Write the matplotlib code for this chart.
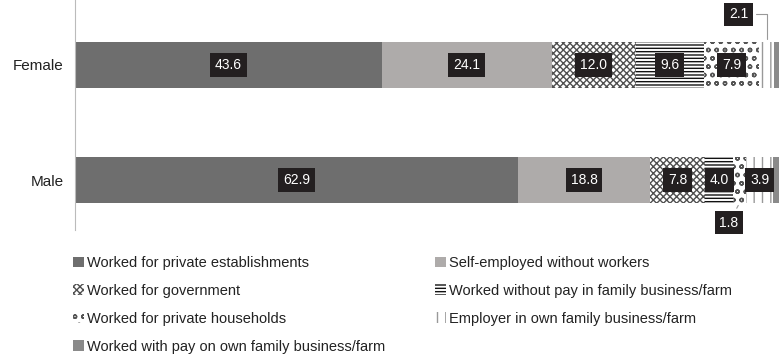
import numpy as np
import matplotlib.pyplot as plt
from matplotlib.patches import Patch

plt.rcParams['font.family'] = ['Liberation Sans', 'DejaVu Sans']
plt.rcParams['hatch.linewidth'] = 1.0

groups = ['Female', 'Male']
categories = [
    'Worked for private establishments',
    'Self-employed without workers',
    'Worked for government',
    'Worked without pay in family business/farm',
    'Worked for private households',
    'Employer in own family business/farm',
    'Worked with pay on own family business/farm',
]
# share of employed persons (%), female then male
female = [43.6, 24.1, 12.0, 9.6, 7.9, 2.1, 0.7]
male = [62.9, 18.8, 7.8, 4.0, 1.8, 3.9, 0.8]

# segment styles: face colour, hatch, hatch colour
styles = [
    ('#6e6e6e', None, None),
    ('#aeabaa', None, None),
    ('#ffffff', 'xxxxx', '#505050'),
    ('#ffffff', '-----', '#111111'),
    ('#ffffff', 'oo', '#555555'),
    ('#ffffff', '||', '#999999'),
    ('#8a8a8a', None, None),
]

fig = plt.figure(figsize=(7.79, 3.6), dpi=100)
ax = fig.add_axes([75 / 779, 1 - 230 / 360, 1 - 75 / 779, 230 / 360])

box = dict(boxstyle='square,pad=0.35', fc='#231f20', ec='none')

data = np.array([female, male])
ypos = np.arange(len(groups))
left = np.zeros(len(groups))
for j, (cat, (fc, hatch, hc)) in enumerate(zip(categories, styles)):
    vals = data[:, j]
    ax.barh(ypos, vals, left=left, height=0.4, color=fc,
            hatch=hatch, edgecolor=hc if hc else fc, linewidth=0)
    for i, (v, l) in enumerate(zip(vals, left)):
        if v >= 2.5:
            ax.text(l + v / 2, ypos[i], f'{v:.1f}', ha='center', va='center',
                    color='white', fontsize=10, bbox=box)
        elif j == 5 and i == 0:
            # small segment: label above the bar with a leader line
            ax.annotate(f'{v:.1f}', xy=(l + v / 2, ypos[i] - 0.2),
                        xytext=(l + v / 2 - 4.0, ypos[i] - 0.44),
                        ha='center', va='center', color='white', fontsize=10, bbox=box,
                        arrowprops=dict(arrowstyle='-', color='#999999', lw=0.8,
                                        connectionstyle='angle,angleA=0,angleB=90'))
        elif j == 4 and i == 1:
            # small segment: label below the bar with a leader line
            ax.annotate(f'{v:.1f}', xy=(l + v / 2, ypos[i] + 0.2),
                        xytext=(l + v / 2 - 1.5, ypos[i] + 0.37),
                        ha='center', va='center', color='white', fontsize=10, bbox=box,
                        arrowprops=dict(arrowstyle='-', color='#999999', lw=0.8))
    left += vals

ax.set_xlim(0, 100)
ax.set_ylim(1 + 50 / 115, -65 / 115)
ax.set_yticks(ypos)
ax.set_yticklabels(groups, fontsize=11, color='#222222')
ax.tick_params(axis='y', length=0, pad=8)
ax.set_xticks([])
for s in ['top', 'right', 'bottom']:
    ax.spines[s].set_visible(False)
ax.spines['left'].set_color('#bbbbbb')
ax.patch.set_alpha(0)

# legend in two columns, last item on its own row
handles = []
for fc, hatch, hc in styles:
    handles.append(Patch(facecolor=fc, hatch=hatch, edgecolor=hc if hc else fc,
                         linewidth=0))
order = [0, 2, 4, 6, 1, 3, 5]
leg = fig.legend(handles=[handles[k] for k in order],
                 labels=[categories[k] for k in order],
                 ncol=2, loc='upper left', bbox_to_anchor=(73 / 779, 1 - 256 / 360),
                 frameon=False, fontsize=10.5, handlelength=0.75, handleheight=0.75,
                 handletextpad=0.2, labelspacing=0.95, columnspacing=3.4,
                 borderaxespad=0, borderpad=0)
for t in leg.get_texts():
    t.set_color('#222222')

fig.savefig('out.png', dpi=100)
